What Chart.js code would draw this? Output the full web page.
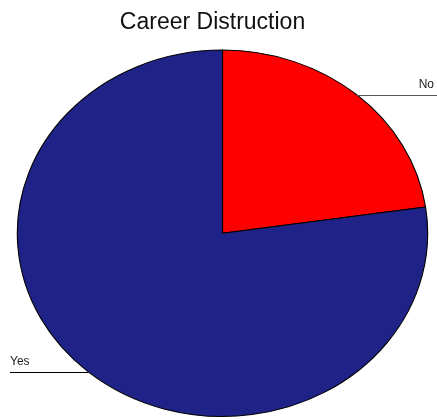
<!DOCTYPE html>
<html>
<head>
<meta charset="utf-8">
<script src="https://cdn.jsdelivr.net/npm/chart.js@4"></script>
<style>
  html, body { margin: 0; padding: 0; background: #fff; overflow: hidden; }
  #wrap { width: 437px; height: 419px; }
</style>
</head>
<body>
<div id="wrap"><canvas id="pieCanvas"></canvas></div>
<script>
const labels = ["No", "Yes"];
const values = [22.7, 77.3];
const colors = ["#ff0000", "#1f2388"];

// stretch the pie into an ellipse, like the original
const ellipsePie = {
    id: "ellipsePie",
    beforeDatasetsDraw(chart, args, opts) {
        const arc = chart.getDatasetMeta(0).data[0];
        const ctx = chart.ctx;
        ctx.save();
        ctx.translate(arc.x + opts.shiftX, arc.y);
        ctx.scale(opts.scaleX, 1);
        ctx.translate(-arc.x, -arc.y);
    },
    afterDatasetsDraw(chart) {
        chart.ctx.restore();
    }
};

// slice names with a horizontal leader line
const sliceLabels = {
    id: "sliceLabels",
    afterDraw(chart, args, opts) {
        const ctx = chart.ctx;
        const ep = chart.options.plugins.ellipsePie;
        const meta = chart.getDatasetMeta(0);
        ctx.save();
        ctx.font = "12px 'Liberation Sans', Arial, sans-serif";
        ctx.textBaseline = "alphabetic";
        meta.data.forEach((arc, i) => {
            const mid = (arc.startAngle + arc.endAngle) / 2;
            const cx = arc.x + ep.shiftX;
            const px = cx + Math.cos(mid) * arc.outerRadius * ep.scaleX;
            const py = arc.y + Math.sin(mid) * arc.outerRadius;
            const right = Math.cos(mid) >= 0;
            const endX = right ? chart.width : opts.margin;
            ctx.strokeStyle = right ? "#555" : "#000";
            ctx.lineWidth = 1;
            ctx.beginPath();
            ctx.moveTo(px, Math.round(py) + 0.5);
            ctx.lineTo(endX, Math.round(py) + 0.5);
            ctx.stroke();
            ctx.fillStyle = "#222";
            ctx.textAlign = right ? "right" : "left";
            ctx.fillText(chart.data.labels[i], right ? chart.width - 3 : opts.margin, py - 7);
        });
        ctx.restore();
    }
};

const pieChart = new Chart(document.getElementById("pieCanvas"), {
    type: "pie",
    data: {
        labels: labels,
        datasets: [{
            data: values,
            backgroundColor: colors,
            borderColor: "#000",
            borderWidth: 1,
            hoverOffset: 0
        }]
    },
    options: {
        responsive: true,
        maintainAspectRatio: false,
        animation: false,
        layout: {
            padding: { left: 0, right: 12, top: 0, bottom: 2 }
        },
        plugins: {
            legend: { display: false },
            tooltip: { enabled: false },
            title: {
                display: true,
                text: "Career Distruction",
                color: "#111",
                font: { family: "'Liberation Sans', Arial, sans-serif", size: 23, weight: "normal" },
                padding: { top: 9, bottom: 13 }
            },
            ellipsePie: { shiftX: 10, scaleX: 1.12 },
            sliceLabels: { margin: 10 }
        }
    },
    plugins: [ellipsePie, sliceLabels]
});
</script>
</body>
</html>
